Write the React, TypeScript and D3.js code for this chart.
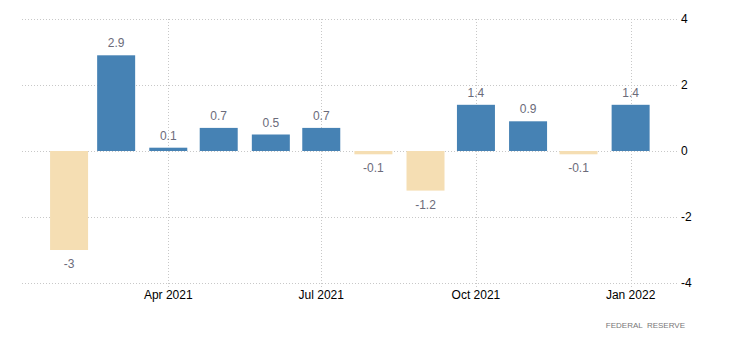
import React from "react";
import * as d3 from "d3";

const months: string[] = ["2021-02","2021-03","2021-04","2021-05","2021-06","2021-07","2021-08","2021-09","2021-10","2021-11","2021-12","2022-01"];
const values: number[] = [-3, 2.9, 0.1, 0.7, 0.5, 0.7, -0.1, -1.2, 1.4, 0.9, -0.1, 1.4];
const labels: string[] = ["-3","2.9","0.1","0.7","0.5","0.7","-0.1","-1.2","1.4","0.9","-0.1","1.4"];
const yTicks: number[] = [4, 2, 0, -2, -4];
const xTicks: string[] = ["2021-04","2021-07","2021-10","2022-01"];
const xTickLabels: string[] = ["Apr 2021","Jul 2021","Oct 2021","Jan 2022"];
const source = "FEDERAL  RESERVE";

const parse = (s: string) => { const [y, m] = s.split("-").map(Number); return new Date(y, m - 1, 1); };

export default function App() {
  const W = 730, H = 345;
  const left = 22, right = 677, top = 19, bottom = 283;
  const x = d3.scaleTime()
    .domain([new Date(2021, 0, 4), new Date(2022, 0, 28, 14)])
    .range([left, right]);
  const y = d3.scaleLinear().domain([-4, 4]).range([bottom, top]);
  const bw = 38;
  const font = "'Liberation Sans', Arial, sans-serif";
  return (
    <svg width={W} height={H} style={{ position: "absolute", left: 0, top: 0 }} fontFamily={font}>
      <rect width={W} height={H} fill="#fff" />
      {yTicks.map((t) => (
        <line key={"h" + t} x1={left} x2={right} y1={Math.round(y(t)) + 0.5} y2={Math.round(y(t)) + 0.5}
          stroke="#c8c8c8" strokeDasharray="1,2" />
      ))}
      {xTicks.map((t) => (
        <line key={"v" + t} x1={Math.round(x(parse(t))) + 0.5} x2={Math.round(x(parse(t))) + 0.5} y1={top} y2={bottom + 4}
          stroke="#c8c8c8" strokeDasharray="1,2" />
      ))}
      {values.map((v, i) => {
        const cx = x(parse(months[i]));
        const y0 = y(0), y1 = y(v);
        return (
          <rect key={"b" + i} x={cx - bw / 2} width={bw} y={Math.min(y0, y1)} height={Math.abs(y1 - y0)}
            fill={v >= 0 ? "#4682b4" : "#f5deb3"} />
        );
      })}
      {values.map((v, i) => {
        const cx = x(parse(months[i]));
        const ty = v >= 0 ? y(v) - 8 : y(v) + 18;
        return (
          <text key={"l" + i} x={cx} y={ty} textAnchor="middle" fontSize={12} fill="#6b6b7a">{labels[i]}</text>
        );
      })}
      {yTicks.map((t) => (
        <text key={"yl" + t} x={681} y={y(t) + 4} fontSize={12} fill="#000">{t}</text>
      ))}
      {xTicks.map((t, i) => (
        <text key={"xl" + t} x={x(parse(t))} y={299} textAnchor="middle" fontSize={12} fill="#000">{xTickLabels[i]}</text>
      ))}
      <text x={685} y={328} textAnchor="end" fontSize={8} fill="#777" style={{ whiteSpace: "pre" }}>{source}</text>
    </svg>
  );
}
